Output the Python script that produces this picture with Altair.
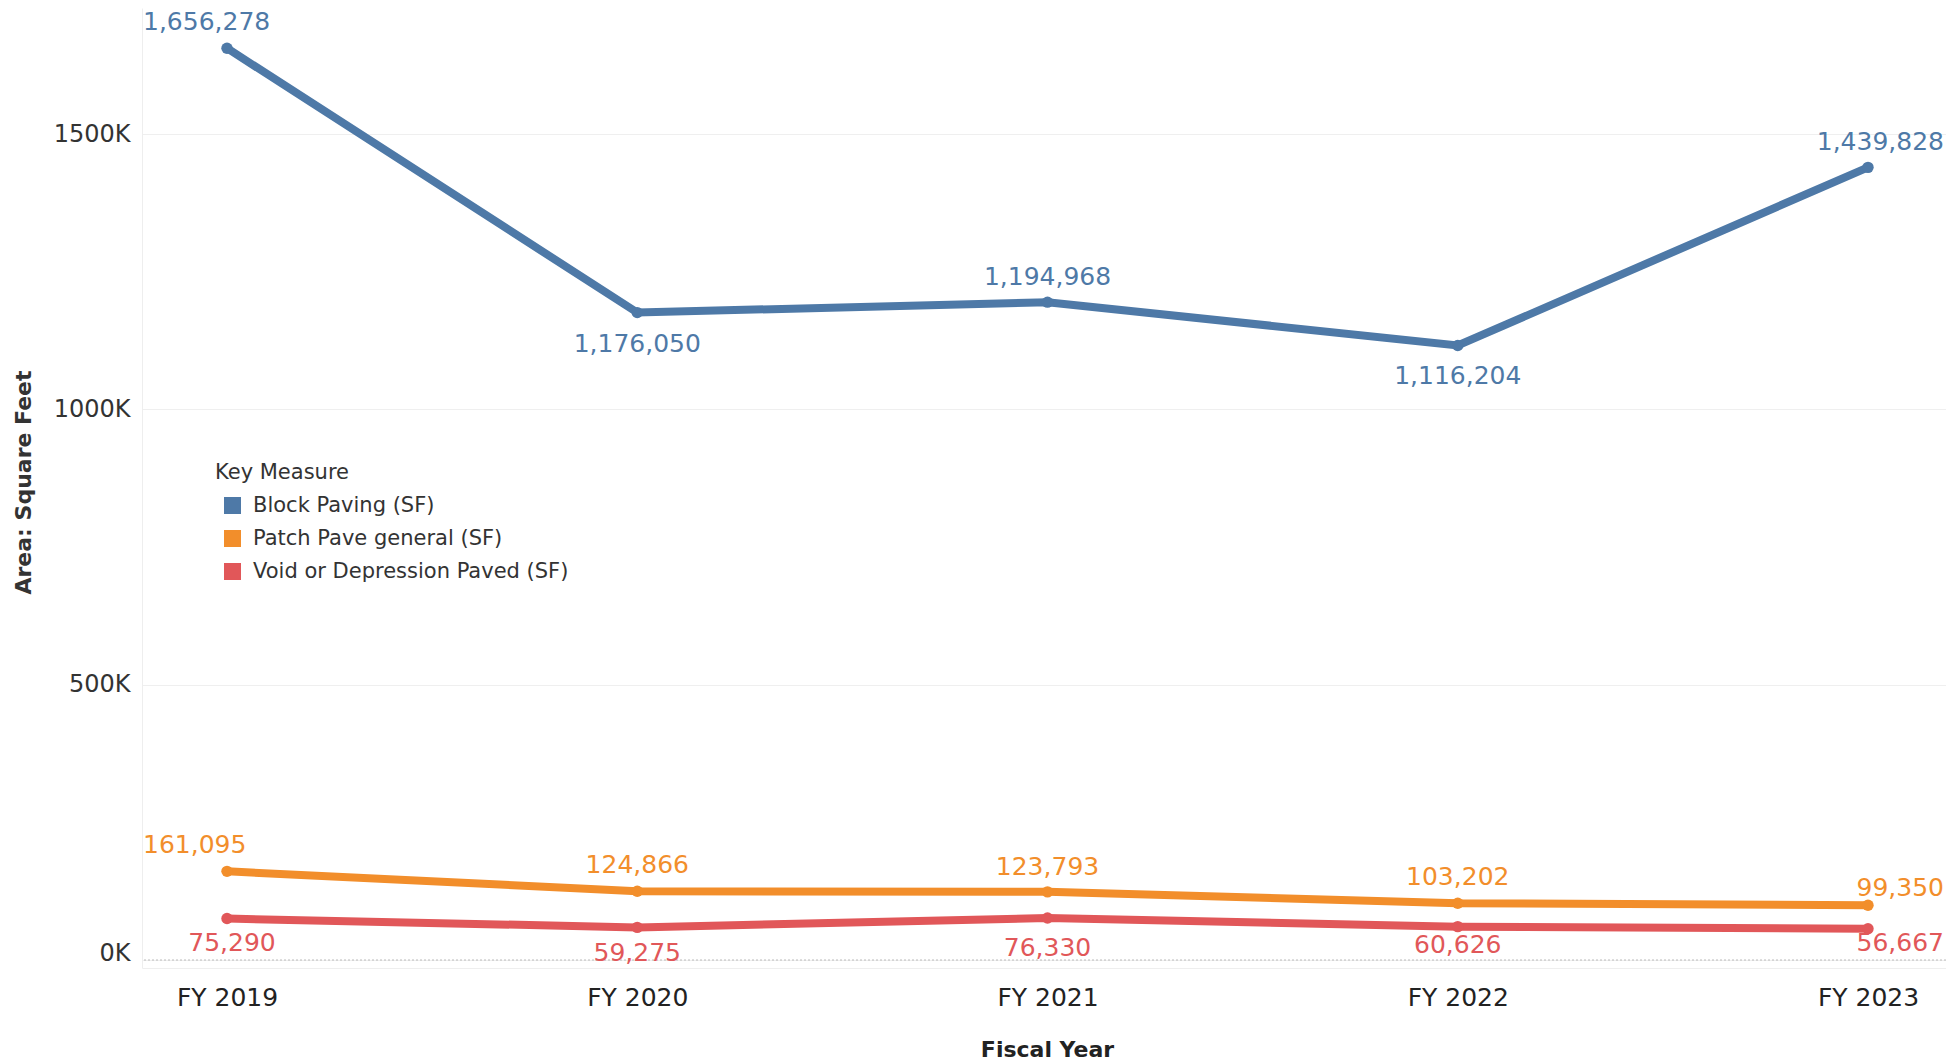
import altair as alt
import pandas as pd

years = ["FY 2019", "FY 2020", "FY 2021", "FY 2022", "FY 2023"]
measures = ["Block Paving (SF)", "Patch Pave general (SF)", "Void or Depression Paved (SF)"]
block_paving = [1656278, 1176050, 1194968, 1116204, 1439828]
patch_pave = [161095, 124866, 123793, 103202, 99350]
void_paved = [75290, 59275, 76330, 60626, 56667]
colors = ["#4e79a7", "#f28e2b", "#e15759"]
y_ticks = [0, 500000, 1000000, 1500000]

rows = []
for m, vals in zip(measures, [block_paving, patch_pave, void_paved]):
    for yr, v in zip(years, vals):
        rows.append({"year": yr, "measure": m, "value": v, "label": f"{v:,}"})
df = pd.DataFrame(rows)

FONT = "DejaVu Sans"

label_place = {
    measures[0]: [("left", -84, -26), ("center", 0, 31), ("center", 0, -25), ("center", 0, 30), ("right", 76, -25)],
    measures[1]: [("left", -84, -26), ("center", 0, -26), ("center", 0, -25), ("center", 0, -26), ("right", 76, -17)],
    measures[2]: [("center", 5, 24), ("center", 0, 26), ("center", 0, 30), ("center", 0, 18), ("right", 76, 14)],
}

x_enc = alt.X(
    "year:N", sort=years,
    scale=alt.Scale(type="point", range=[0, 1811], padding=0.2072),
    axis=alt.Axis(
        title="Fiscal Year", labelAngle=0, labelFontSize=25, labelFont=FONT,
        labelColor="#222222", labelPadding=17, ticks=False, domain=True,
        domainColor="#eeeeee", grid=False, titleFontSize=22, titleFont=FONT,
        titleFontWeight="bold", titleColor="#222222", titleX=905, titleY=81,
        titleAlign="center", titleBaseline="middle",
    ),
)
y_scale = alt.Scale(domain=[-14500, 1729300], nice=False, zero=False)
y_axis = alt.Axis(
    values=y_ticks, labelExpr="datum.value / 1000 + 'K'", labelFontSize=24,
    labelFont=FONT, labelColor="#333333", labelPadding=12, ticks=False,
    labelBaseline={"condition": {"test": "datum.value === 0", "value": "alphabetic"}, "value": "middle"},
    domainColor="#eeeeee", grid=True, gridColor="#efefef", title="Area: Square Feet",
    titleFontSize=22, titleFont=FONT, titleFontWeight="bold", titleColor="#333333",
    titleX=-119, titleY=474, titleAngle=270, titleAlign="center", titleBaseline="middle",
)
y_enc = alt.Y("value:Q", scale=y_scale, axis=y_axis)

color_nolegend = alt.Color("measure:N", scale=alt.Scale(domain=measures, range=colors), legend=None)
stroke_legend = alt.Stroke(
    "measure:N", scale=alt.Scale(domain=measures, range=colors),
    legend=alt.Legend(
        orient="none", legendX=73, legendY=454, title="Key Measure",
        titleFontSize=21, titleFont=FONT, titleFontWeight="normal", titleColor="#333333",
        labelFontSize=21, labelFont=FONT, labelColor="#333333", labelLimit=500,
        symbolType="square", symbolSize=72, symbolStrokeWidth=8.5, symbolOffset=7,
        labelOffset=10, rowPadding=-10, titlePadding=12,
    ),
)

base = alt.Chart(df)

zero_rule = alt.Chart(pd.DataFrame({"value": [0]})).mark_rule(
    color="#bbbbbb", strokeDash=[2, 2], strokeWidth=1
).encode(y=y_enc)

lines = base.mark_line(strokeWidth=8).encode(x=x_enc, y=y_enc, stroke=stroke_legend)
points = base.mark_circle(size=130, opacity=1).encode(x=x_enc, y=y_enc, color=color_nolegend)

texts = []
for m in measures:
    for i, yr in enumerate(years):
        align, dx, dy = label_place[m][i]
        t = base.transform_filter(
            (alt.datum.measure == m) & (alt.datum.year == yr)
        ).mark_text(
            align=align, dx=dx, dy=dy, baseline="middle", fontSize=25, font=FONT
        ).encode(x=x_enc, y=y_enc, color=color_nolegend, text="label:N")
        texts.append(t)

chart = alt.layer(zero_rule, lines, points, *texts).properties(
    width=1804, height=960,
    autosize=alt.AutoSizeParams(type="none"),
    padding={"left": 134, "top": 0, "right": 0, "bottom": 92},
    background="white",
).configure_view(stroke=None)

chart.save("out.html", embed_options={"renderer": "svg", "actions": False})
